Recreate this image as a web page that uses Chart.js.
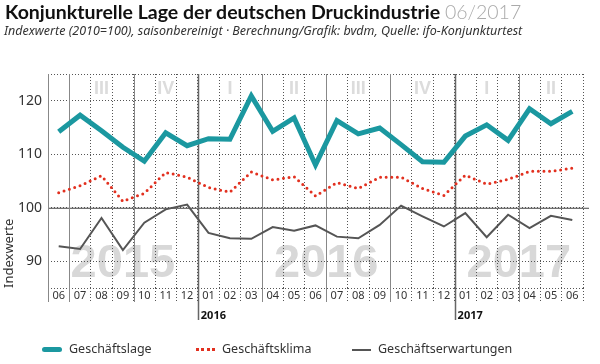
<!DOCTYPE html>
<html>
<head>
<meta charset="utf-8">
<script src="https://cdn.jsdelivr.net/npm/chart.js@4"></script>
<style>
  body { margin: 0; background: #fff; }
  #wrap { position: relative; width: 600px; height: 364px; overflow: hidden; font-family: "Noto Sans", sans-serif; }
  #myChart { position: absolute; left: 0; top: 0; }
  .title { position: absolute; left: 5px; top: 0px; font-family: Lato, sans-serif; font-size: 19.5px; font-weight: 700; color: #111; white-space: nowrap; }
  .title span { font-weight: 300; color: #aaa; }
  .sub { position: absolute; left: 4px; top: 22px; font-size: 12.5px; font-style: italic; color: #333; white-space: nowrap; }
  .legend { position: absolute; top: 340px; font-size: 12.5px; color: #333; white-space: nowrap; }
  .sw { display: inline-block; vertical-align: middle; margin-right: 7px; }
</style>
</head>
<body>
<div id="wrap">
  <canvas id="myChart" width="600" height="364"></canvas>
  <div class="title">Konjunkturelle Lage der deutschen Druckindustrie <span>06/2017</span></div>
  <div class="sub">Indexwerte (2010=100), saisonbereinigt · Berechnung/Grafik: bvdm, Quelle: ifo-Konjunkturtest</div>
  <div class="legend" style="left:42px"><span class="sw" style="width:20px;height:5px;border-radius:3px;background:#1b98a0"></span>Geschäftslage</div>
  <div class="legend" style="left:196px"><span class="sw" style="width:19px;height:0;border-top:3px dotted #e2301f"></span>Geschäftsklima</div>
  <div class="legend" style="left:352px"><span class="sw" style="width:19px;height:2px;background:#555"></span>Geschäftserwartungen</div>
</div>
<script>
// 06/2015 .. 06/2017
let months = ['06','07','08','09','10','11','12','01','02','03','04','05','06','07','08','09','10','11','12','01','02','03','04','05','06'];
let geschaeftslage = [114.2,117.3,114.4,111.3,108.7,114.0,111.6,112.9,112.8,120.9,114.3,116.8,108.0,116.3,113.8,114.9,111.8,108.6,108.5,113.4,115.5,112.6,118.5,115.7,118.0];
let geschaeftsklima = [102.8,104.1,106.0,101.2,102.7,106.6,105.7,103.8,102.9,106.7,105.2,105.8,102.2,104.7,103.6,105.7,105.7,103.6,102.3,106.1,104.4,105.3,106.8,106.8,107.4];
let geschaeftserwartungen = [92.8,92.3,98.1,92.1,97.2,99.7,100.6,95.3,94.3,94.2,96.4,95.7,96.7,94.6,94.3,96.8,100.4,98.4,96.5,99.0,94.5,98.7,96.2,98.5,97.7];
let yTicks = [90,100,110,120];
let quarters = ['III','IV','I','II','III','IV','I','II'];
let years = ['2015','2016','2017'];

// index of first month of each year / quarter
let yearStart = [0,7,19];
let yearEnd = [6,18,24];
let quarterStart = [1,4,7,10,13,16,19,22];

function boundary(x, i) {
  return (x.getPixelForValue(i - 1) + x.getPixelForValue(i)) / 2;
}

const decor = {
  id: 'decor',
  beforeDraw(chart) {
    const ctx = chart.ctx, x = chart.scales.x, a = chart.chartArea;
    ctx.save();
    ctx.textAlign = 'center';
    ctx.textBaseline = 'middle';
    ctx.fillStyle = '#d8d8d8';
    ctx.font = 'bold 47px "Liberation Sans"';
    years.forEach((y, k) => {
      let cx = (x.getPixelForValue(yearStart[k]) + x.getPixelForValue(yearEnd[k])) / 2;
      ctx.fillText(y, cx, 264);
    });
    ctx.fillStyle = '#dcdcdc';
    ctx.font = 'bold 18px "Liberation Sans"';
    quarters.forEach((q, k) => {
      ctx.fillText(q, x.getPixelForValue(quarterStart[k] + 1), a.top + 15);
    });
    ctx.restore();
  },
  beforeDatasetsDraw(chart) {
    const ctx = chart.ctx, x = chart.scales.x, y = chart.scales.y, a = chart.chartArea;
    ctx.save();
    ctx.lineWidth = 1;
    ctx.strokeStyle = '#444';
    ctx.beginPath();
    ctx.moveTo(a.left, y.getPixelForValue(100) + 0.5);
    ctx.lineTo(a.right + 6, y.getPixelForValue(100) + 0.5);
    ctx.stroke();
    ctx.strokeStyle = '#888';
    ctx.beginPath();
    ctx.moveTo(a.left + 0.5, a.top);
    ctx.lineTo(a.left + 0.5, a.bottom + 14);
    quarterStart.forEach(i => {
      let px = Math.round(boundary(x, i)) + 0.5;
      ctx.moveTo(px, a.top);
      ctx.lineTo(px, a.bottom + 14);
    });
    ctx.stroke();
    ctx.lineWidth = 1.5;
    ctx.strokeStyle = '#666';
    ctx.beginPath();
    [7, 19].forEach(i => {
      let px = Math.round(boundary(x, i)) + 0.5;
      ctx.moveTo(px, a.top);
      ctx.lineTo(px, a.bottom + 32);
    });
    ctx.stroke();
    ctx.restore();
  },
  afterDraw(chart) {
    const ctx = chart.ctx, x = chart.scales.x, a = chart.chartArea;
    ctx.save();
    ctx.fillStyle = '#111';
    ctx.font = 'bold 11px "Noto Sans"';
    ctx.textBaseline = 'middle';
    [7, 19].forEach((i, k) => {
      ctx.fillText(years[k + 1], boundary(x, i) + 3, a.bottom + 28);
    });
    ctx.restore();
  }
};

new Chart('myChart', {
  type: 'line',
  data: {
    labels: months,
    datasets: [
      {
        label: 'Geschäftslage',
        data: geschaeftslage,
        borderColor: '#1b98a0',
        borderWidth: 5,
        borderJoinStyle: 'miter',
        pointRadius: 0,
        tension: 0
      },
      {
        label: 'Geschäftsklima',
        data: geschaeftsklima,
        borderColor: '#e2301f',
        borderWidth: 3,
        borderDash: [0, 5.6],
        borderCapStyle: 'round',
        pointRadius: 0,
        tension: 0
      },
      {
        label: 'Geschäftserwartungen',
        data: geschaeftserwartungen,
        borderColor: '#555',
        borderWidth: 2,
        pointRadius: 0,
        tension: 0
      }
    ]
  },
  options: {
    responsive: false,
    animation: false,
    events: [],
    layout: { padding: { top: 74, right: 17, left: 0, bottom: 0 } },
    plugins: { legend: { display: false }, tooltip: { enabled: false } },
    scales: {
      x: {
        offset: true,
        afterFit: s => { s.height = 76; },
        grid: {
          offset: true,
          color: '#555',
          tickLength: 14,
          tickColor: '#555',
          tickBorderDash: [1, 2]
        },
        border: { display: false, dash: [1, 2] },
        ticks: {
          autoSkip: false,
          maxRotation: 0,
          padding: -13,
          color: '#333',
          font: { family: 'Noto Sans', size: 11 }
        }
      },
      y: {
        min: 85,
        max: 125,
        afterFit: s => { s.width = 48; },
        afterBuildTicks: s => { s.ticks = [85].concat(yTicks, [125]).map(v => ({ value: v })); },
        grid: { color: '#555', drawTicks: false },
        border: { display: false, dash: [1, 2] },
        ticks: {
          padding: 6,
          color: '#333',
          font: { family: 'Noto Sans', size: 14 },
          callback: v => yTicks.includes(v) ? v : ''
        },
        title: {
          display: true,
          text: 'Indexwerte',
          align: 'start',
          color: '#333',
          font: { family: 'Noto Sans', size: 13 },
          padding: { top: 1, bottom: 0 }
        }
      }
    }
  },
  plugins: [decor]
});
</script>
</body>
</html>
